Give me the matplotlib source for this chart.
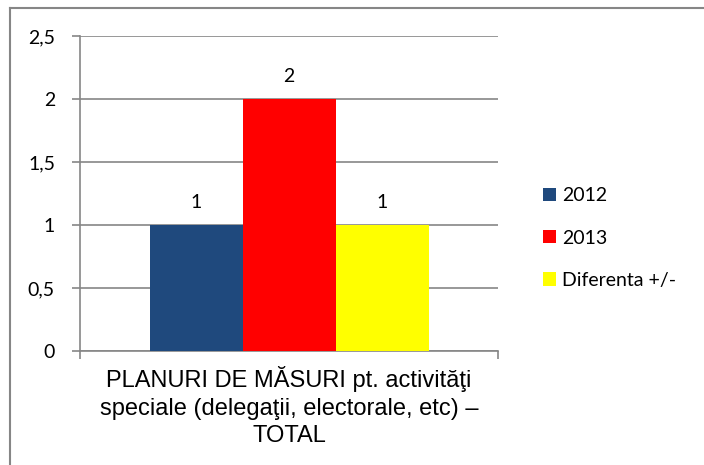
import matplotlib
matplotlib.use("Agg")
import matplotlib.pyplot as plt
from matplotlib.patches import Patch
from matplotlib.lines import Line2D
from matplotlib.ticker import FuncFormatter

# date
categorie = "PLANURI DE MĂSURI pt. activităţi\nspeciale (delegaţii, electorale, etc) –\nTOTAL"
serii = ["2012", "2013", "Diferenta +/-"]
valori = [1, 2, 1]
culori = ["#1F497D", "#FF0000", "#FFFF00"]

fig = plt.figure(figsize=(7.04, 4.65), dpi=100)
ax = fig.add_axes([80 / 704, 1 - 351 / 465, 418 / 704, 315 / 465])

latime = 93 / 418
for i, (nume, v, c) in enumerate(zip(serii, valori, culori)):
    x = (i - 1) * latime
    ax.bar(x, v, width=latime, color=c, label=nume, zorder=3)
    ax.annotate(str(v), (x, v), xytext=(0, 10), textcoords="offset points",
                ha="center", va="bottom", fontsize=14, family="Lato")

ax.set_xlim(-0.5, 0.5)
ax.set_ylim(0, 2.5)
ax.set_yticks([0, 0.5, 1, 1.5, 2, 2.5])
ax.yaxis.set_major_formatter(FuncFormatter(lambda v, p: f"{v:g}".replace(".", ",")))
ax.grid(axis="y", color="#868686", linewidth=1.2, zorder=0)

for s in ["top", "right"]:
    ax.spines[s].set_visible(False)
for s in ["left", "bottom"]:
    ax.spines[s].set_color("#868686")
    ax.spines[s].set_linewidth(1.2)

ax.tick_params(axis="y", length=6, color="#868686", width=1.2, labelsize=14, pad=12)
for lbl in ax.get_yticklabels():
    lbl.set_family("Lato")

ax.set_xticks([0])
ax.set_xticklabels([categorie], fontsize=17, family="Liberation Sans", linespacing=1.33)
ax.tick_params(axis="x", length=0, pad=11)
ax.set_xticks([-0.5, 0.5], minor=True)
ax.tick_params(axis="x", which="minor", length=6, color="#868686", width=1.2)

handles = [Patch(facecolor=c, edgecolor="none") for c in culori]
fig.legend(handles, serii, loc="center left", bbox_to_anchor=(525 / 704, 1 - 238 / 465),
           frameon=False, handlelength=0.7, handleheight=0.7, handletextpad=0.3,
           labelspacing=1.3, prop={"family": "Lato", "size": 14})

# chenar exterior
fig.add_artist(Line2D([10 / 704, 1], [1 - 8 / 465] * 2, color="#868686", lw=1.5))
fig.add_artist(Line2D([10 / 704] * 2, [0, 1 - 8 / 465], color="#868686", lw=1.5))

fig.savefig("out.png", dpi=100)
